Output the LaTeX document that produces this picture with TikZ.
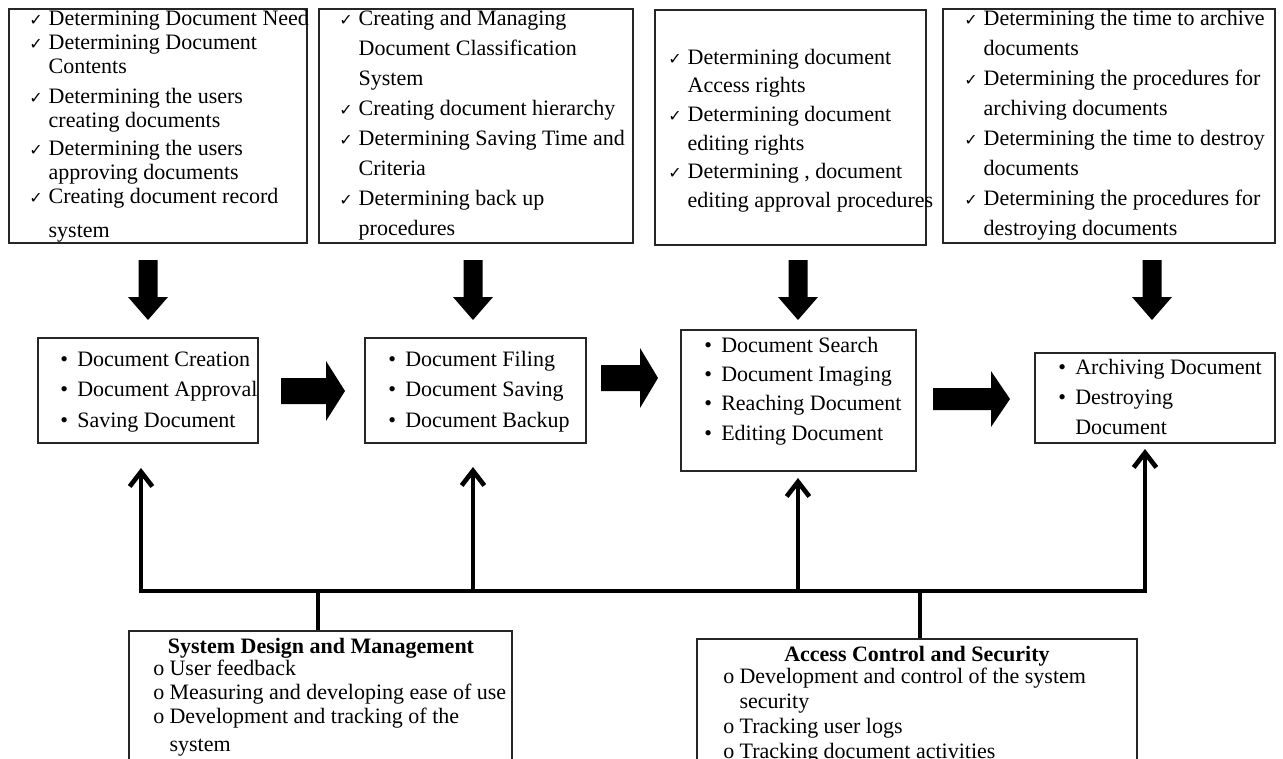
\documentclass[tikz,border=0pt]{standalone}
\usepackage{fontspec}
\setmainfont{Liberation Serif}
\newfontfamily\symfont{DejaVu Sans}
\usetikzlibrary{arrows.meta,fit}
\newcommand{\chk}{{\symfont\fontsize{12}{12}\selectfont ✓}}
\newcommand{\bul}{\textbullet}
\newcommand{\dnarrow}[1]{\fill[blockarrow] (#1-9.5,260) -- (#1+9.5,260) -- (#1+9.5,297) -- (#1+20,297) -- (#1,320) -- (#1-20,297) -- (#1-9.5,297) -- cycle;}
\newcommand{\rtarrow}[6]{\fill[blockarrow] (#1,#4-#5) -- (#2,#4-#5) -- (#2,#4-#6) -- (#3,#4) -- (#2,#4+#6) -- (#2,#4+#5) -- (#1,#4+#5) -- cycle;}
\begin{document}
\begin{tikzpicture}[x=0.75pt,y=-0.75pt,
  box/.style={draw=black!85,line width=1.1pt,inner sep=0pt,fit={#1}},
  list/.style={anchor=base west,inner sep=0pt},
  blockarrow/.style={fill=black},
  bus/.style={line width=3.5pt,draw=black},
  tip/.style={-{Straight Barb[length=11pt,width=17pt]}},
  ttl/.style={anchor=base,inner sep=0pt,font=\fontsize{16.5}{18}\selectfont\bfseries}
]
\useasboundingbox (0,0) rectangle (1283,758);
\clip (0,0) rectangle (1283,758);
\fill[white] (0,0) rectangle (1283,758);

% top boxes
\node[box={(9,9) (307,243)}] (t1) {};
\node[box={(319,9) (633,243)}] (t2) {};
\node[box={(655,10) (926,245)}] (t3) {};
\node[box={(943,9) (1275,243)}] (t4) {};

\node[list,font=\fontsize{16.5}{18}\selectfont] (t1txt) at (29,25) {\begin{tabular}[t]{@{}l@{\hspace{4.5pt}}l@{}}
\chk & Determining Document Need\\
\chk & Determining Document\\
 & Contents\\[5pt]
\chk & Determining the users\\
 & creating documents\\[3pt]
\chk & Determining the users\\
 & approving documents\\
\chk & Creating document record\\[7pt]
 & system
\end{tabular}};

\node[list,font=\fontsize{16.5}{22.5}\selectfont] (t2txt) at (339,25) {\begin{tabular}[t]{@{}l@{\hspace{4.5pt}}l@{}}
\chk & Creating and Managing\\
 & Document Classification\\
 & System\\
\chk & Creating document hierarchy\\
\chk & Determining Saving Time and\\
 & Criteria\\
\chk & Determining back up\\
 & procedures
\end{tabular}};

\node[list,font=\fontsize{16.5}{21.5}\selectfont] (t3txt) at (668,64) {\begin{tabular}[t]{@{}l@{\hspace{4.5pt}}l@{}}
\chk & Determining document\\
 & Access rights\\
\chk & Determining document\\
 & editing rights\\
\chk & Determining , document\\
 & editing approval procedures
\end{tabular}};

\node[list,font=\fontsize{16.5}{22.5}\selectfont] (t4txt) at (964,25) {\begin{tabular}[t]{@{}l@{\hspace{4.5pt}}l@{}}
\chk & Determining the time to archive\\
 & documents\\
\chk & Determining the procedures for\\
 & archiving documents\\
\chk & Determining the time to destroy\\
 & documents\\
\chk & Determining the procedures for\\
 & destroying documents
\end{tabular}};

% down block arrows
\dnarrow{148}
\dnarrow{473}
\dnarrow{798}
\dnarrow{1152}

% middle boxes
\node[box={(38,338) (258,443)}] (m1) {};
\node[box={(365,338) (586,443)}] (m2) {};
\node[box={(681,330) (916,471)}] (m3) {};
\node[box={(1035,353) (1275,443)}] (m4) {};

\node[list,font=\fontsize{16.5}{22.9}\selectfont] (m1txt) at (60,366) {\begin{tabular}[t]{@{}l@{\hspace{7pt}}l@{}}
\bul & Document Creation\\
\bul & Document Approval\\
\bul & Saving Document
\end{tabular}};
\node[list,font=\fontsize{16.5}{22.9}\selectfont] (m2txt) at (388,366) {\begin{tabular}[t]{@{}l@{\hspace{7pt}}l@{}}
\bul & Document Filing\\
\bul & Document Saving\\
\bul & Document Backup
\end{tabular}};
\node[list,font=\fontsize{16.5}{22.1}\selectfont] (m3txt) at (704,352) {\begin{tabular}[t]{@{}l@{\hspace{7pt}}l@{}}
\bul & Document Search\\
\bul & Document Imaging\\
\bul & Reaching Document\\
\bul & Editing Document
\end{tabular}};
\node[list,font=\fontsize{16.5}{22.5}\selectfont] (m4txt) at (1058,374) {\begin{tabular}[t]{@{}l@{\hspace{7pt}}l@{}}
\bul & Archiving Document\\
\bul & Destroying\\
 & Document
\end{tabular}};

% right block arrows
\rtarrow{281}{326}{345}{391}{13}{30}
\rtarrow{601}{640}{658}{378}{13}{30}
\rtarrow{933}{991}{1010}{399}{11}{28}

% bus with up arrows
\coordinate (u1) at (141,468);
\coordinate (b1) at (141,591);
\coordinate (b2) at (473,591);
\coordinate (u2) at (473,467);
\coordinate (b3) at (798,591);
\coordinate (u3) at (798,478);
\coordinate (b4) at (1145,591);
\coordinate (u4) at (1145,449);
\coordinate (s1) at (318,591);
\coordinate (s2) at (920,591);

\draw[bus,{Straight Barb[length=11pt,width=17pt]}-{Straight Barb[length=11pt,width=17pt]}] (u1) -- (b1) -- (b4) -- (u4);
\draw[bus,tip] (b2) -- (u2);
\draw[bus,tip] (b3) -- (u3);

% bottom boxes
\node[box={(129,631) (512,800)}] (sd) {};
\node[box={(697,639) (1137,800)}] (ac) {};
\draw[bus] (s1) -- (s1 |- sd.north);
\draw[bus] (s2) -- (s2 |- ac.north);

\node[ttl] (sdt) at (321,653) {System Design and Management};
\node[list,font=\fontsize{16.5}{18}\selectfont] (sdl) at (153,675) {\begin{tabular}[t]{@{}l@{\hspace{4pt}}l@{}}
o & User feedback\\
o & Measuring and developing ease of use\\
o & Development and tracking of the\\[3pt]
 & system
\end{tabular}};

\node[ttl] (act) at (917,661) {Access Control and Security};
\node[list,font=\fontsize{16.5}{18.75}\selectfont] (acl) at (723,683) {\begin{tabular}[t]{@{}l@{\hspace{4pt}}l@{}}
o & Development and control of the system\\
 & security\\
o & Tracking user logs\\
o & Tracking document activities
\end{tabular}};
\end{tikzpicture}
\end{document}
